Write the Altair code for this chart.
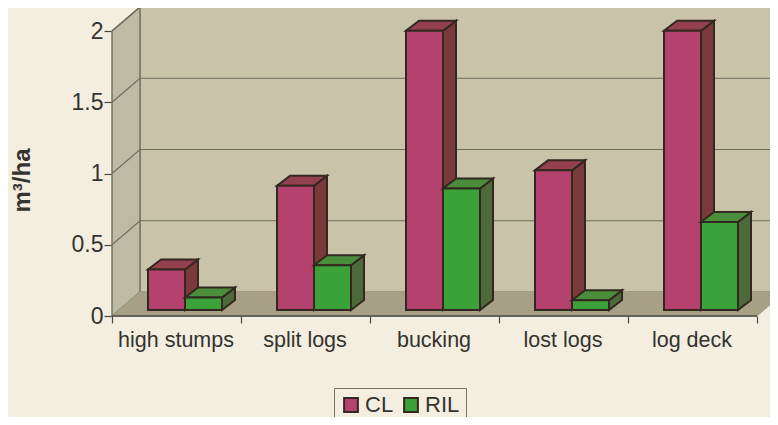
import altair as alt
import pandas as pd

categories = ["high stumps", "split logs", "bucking", "lost logs", "log deck"]
cl_values = [0.29, 0.89, 2.0, 1.0, 2.0]
ril_values = [0.09, 0.32, 0.87, 0.07, 0.63]
y_ticks = [0, 0.5, 1, 1.5, 2]
grid_levels = [0.5, 1, 1.5, 2]
series_names = ["CL", "RIL"]
series_front = ["#b5416f", "#3aa238"]
series_side = ["#7a3a3a", "#4d6a3c"]
series_top = ["#94404f", "#4a8d3b"]

PAPER = "#f3eee0"
BACK_WALL = "#c9c3aa"
LEFT_WALL = "#bdbba4"
FLOOR = "#a79f86"
EDGE = "#33281f"
INK = "#33332f"

PX_X = 129.0
PX_Y = 142.5
XMAX = 658 / PX_X
YMAX = 308 / PX_Y
DEPTH_X = 28 / PX_X
DEPTH_Y = 24 / PX_Y
BAR_DX = 13 / PX_X
BAR_DY = 10 / PX_Y
BAR_W = 37 / PX_X
BAR_START = 36 / PX_X
BAR_BASE = 6 / PX_Y
BAR_SCALE = 0.98

xs = alt.Scale(domain=[0, XMAX], nice=False, zero=False)
ys = alt.Scale(domain=[0, YMAX], nice=False, zero=False)
label_expr = "['" + "','".join(categories) + "',''][datum.value]"
x_axis = alt.Axis(
    values=[0, 1, 2, 3, 4, 5], title=None, domain=False, grid=False,
    labelExpr=label_expr,
    labelOffset=PX_X / 2 - 1, labelFontSize=21.5, labelFont="Liberation Sans",
    labelColor=INK, labelPadding=6, labelOverlap=False, labelFlush=False,
    tickColor="#4a4a40", tickSize=7, tickWidth=1.2)
y_axis = alt.Axis(
    values=y_ticks, title="m³/ha", domain=False, grid=False, format="~g",
    labelFontSize=23, labelFont="Liberation Sans", labelColor=INK,
    labelPadding=1, tickColor="#4a4a40", tickSize=8, tickWidth=1.2,
    titleFont="Liberation Sans", titleFontSize=24, titleFontWeight="bold",
    titleColor=INK, titleX=-78, titleY=172)
X = alt.X("x:Q", scale=xs, axis=x_axis)
Y = alt.Y("y:Q", scale=ys, axis=y_axis)

# walls and floor
left_wall = pd.DataFrame({"x": [0, DEPTH_X], "y": [0, DEPTH_Y], "y2": [2.0, 2 + DEPTH_Y]})
back_wall = pd.DataFrame({"x": [DEPTH_X], "x2": [XMAX + 1], "y": [DEPTH_Y], "y2": [2 + DEPTH_Y]})
floor = pd.DataFrame({"y": [0, DEPTH_Y], "x": [0, DEPTH_X], "x2": [5.0, 5 + DEPTH_X]})
grid_rows = []
for g in grid_levels:
    grid_rows += [
        {"g": g, "o": 0, "x": 0, "y": g},
        {"g": g, "o": 1, "x": DEPTH_X, "y": g + DEPTH_Y},
        {"g": g, "o": 2, "x": XMAX, "y": g + DEPTH_Y},
    ]
grid = pd.DataFrame(grid_rows)

layers = [
    alt.Chart(back_wall).mark_rect(fill=BACK_WALL, stroke="#6f6c5c", strokeWidth=1).encode(
        x=X, x2="x2:Q", y=Y, y2="y2:Q"),
    alt.Chart(left_wall).mark_area(color=LEFT_WALL, stroke="#6e7a66", strokeWidth=1.5).encode(
        x=X, y=Y, y2="y2:Q"),
    alt.Chart(floor).mark_area(color=FLOOR, orient="horizontal", stroke=FLOOR).encode(
        x=X, x2="x2:Q", y=Y),
    alt.Chart(grid).mark_line(color="#6f6c5c", strokeWidth=1.2).encode(
        x=X, y=Y, detail="g:N", order="o:Q"),
    alt.Chart(pd.DataFrame({"x": [0], "x2": [5.0], "y": [0]})).mark_rule(
        color="#4a4a40", strokeWidth=1.5).encode(x=X, x2="x2:Q", y=Y),
]

for s, (name, values) in enumerate(zip(series_names, [cl_values, ril_values])):
    side_rows, top_rows, front_rows = [], [], []
    for k, (cat, v) in enumerate(zip(categories, values)):
        left = k + BAR_START + s * BAR_W
        right = left + BAR_W
        top = BAR_BASE + v * BAR_SCALE
        side_rows += [
            {"c": cat, "x": right, "y": BAR_BASE, "y2": top},
            {"c": cat, "x": right + BAR_DX, "y": BAR_BASE + BAR_DY, "y2": top + BAR_DY},
        ]
        top_rows += [
            {"c": cat, "y": top, "x": left, "x2": right},
            {"c": cat, "y": top + BAR_DY, "x": left + BAR_DX, "x2": right + BAR_DX},
        ]
        front_rows.append({"c": cat, "Series": name, "x": left, "x2": right,
                           "y": BAR_BASE, "y2": top})
    layers += [
        alt.Chart(pd.DataFrame(side_rows)).mark_area(
            color=series_side[s], stroke=EDGE, strokeWidth=2).encode(
            x=X, y=Y, y2="y2:Q", detail="c:N"),
        alt.Chart(pd.DataFrame(top_rows)).mark_area(
            color=series_top[s], orient="horizontal", stroke=EDGE, strokeWidth=2).encode(
            x=X, x2="x2:Q", y=Y, detail="c:N"),
        alt.Chart(pd.DataFrame(front_rows)).mark_rect(
            stroke=EDGE, strokeWidth=2).encode(
            x=X, x2="x2:Q", y=Y, y2="y2:Q",
            color=alt.Color("Series:N", scale=alt.Scale(domain=series_names, range=series_front),
                            legend=alt.Legend(
                                orient="none", legendX=222, legendY=380, direction="horizontal",
                                title=None, symbolType="square", symbolSize=190,
                                symbolStrokeColor=EDGE, symbolStrokeWidth=2, symbolOpacity=1,
                                labelFont="Liberation Sans", labelFontSize=22, labelColor=INK,
                                labelOffset=3, columnPadding=6, padding=6,
                                strokeColor="#77736a", fillColor=PAPER, cornerRadius=0))),
    ]

chart = alt.layer(*layers).properties(
    width=658, height=308, background=PAPER,
    padding={"left": 104, "top": 0, "right": 0, "bottom": 101},
    autosize=alt.AutoSizeParams(type="none"),
).configure_view(stroke=None)

chart.save("out.html", embed_options={"renderer": "svg", "actions": False})
